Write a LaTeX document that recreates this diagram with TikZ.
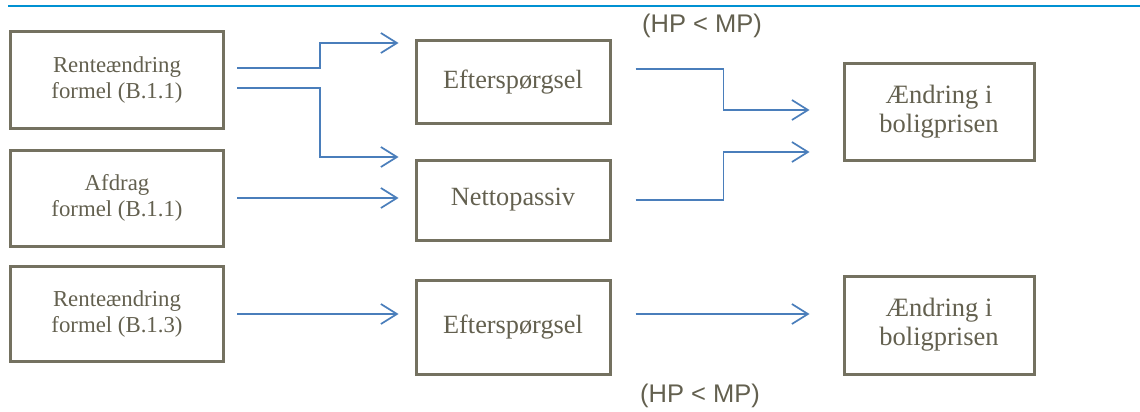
\documentclass[tikz,border=0pt]{standalone}
\usepackage{fontspec}
\setmainfont{Liberation Serif}
\newfontfamily\hpfont{Liberation Sans}
\usepackage{xcolor}
\usepackage{tikz}
\usetikzlibrary{arrows.meta,positioning}

\definecolor{boxgray}{HTML}{747160}
\definecolor{txtgray}{HTML}{63604F}
\definecolor{arrblue}{HTML}{4A7EBB}
\definecolor{rulblue}{HTML}{0091D2}

\begin{document}
\begin{tikzpicture}[
  x=1pt, y=1pt,
  box/.style={draw=boxgray, line width=3pt, align=center, text=txtgray, inner sep=0pt},
  inbox/.style={box, minimum width=213pt, minimum height=96pt, font=\fontsize{22.8}{26}\selectfont},
  midbox/.style={box, minimum width=194pt, font=\fontsize{26.3}{29}\selectfont},
  outbox/.style={box, minimum width=190pt, minimum height=97pt, font=\fontsize{26.5}{29}\selectfont},
  arr/.style={-{Straight Barb[length=16pt, width=20pt]}, line width=1.7pt, draw=arrblue, shorten <=12pt, shorten >=16pt},
  outarr/.style={arr, shorten <=24pt, shorten >=33pt},
  cond/.style={text=txtgray, font=\hpfont\fontsize{25.5}{28}\selectfont}
]
  \useasboundingbox (0,0) rectangle (1140,-412);
  \draw[rulblue, line width=2.4pt] (8,-6) -- (1140,-6);

  % left column
  \node[inbox] (ren1) at (117,-80) {Renteændring\\formel (B.1.1)};
  \node[inbox] (afd) at (117,-198) {Afdrag\\formel (B.1.1)};
  \node[inbox, minimum height=95pt] (ren3) at (117,-314) {Renteændring\\formel (B.1.3)};

  % middle column
  \node[midbox, minimum height=82pt] (eft1) at (513,-82) {Efterspørgsel};
  \node[midbox, minimum height=80pt] (netto) at (513,-200) {Nettopassiv};
  \node[midbox, minimum height=94pt] (eft3) at (513,-327) {Efterspørgsel};

  % right column
  \node[outbox] (aend1) at (939,-112) {Ændring i\\boligprisen};
  \node[outbox, minimum height=98pt] (aend3) at (939,-325) {Ændring i\\boligprisen};

  \node[cond] (hp1) at (702,-26) {(HP < MP)};
  \node[cond] (hp3) at (700,-396) {(HP < MP)};

  \draw[arr] ([yshift=12pt]ren1.east) -- ++(95,0) |- ([yshift=39pt]eft1.west);
  \draw[arr] ([yshift=-8pt]ren1.east) -- ++(95,0) |- ([yshift=43pt]netto.west);
  \draw[arr] (afd.east) -- (afd.east -| netto.west);
  \draw[arr] (ren3.east) -- (ren3.east -| eft3.west);

  \draw[outarr] ([yshift=13pt]eft1.east) -- ++(112,0) |- ([yshift=2pt]aend1.west);
  \draw[outarr] (netto.east) -- ++(112,0) |- ([yshift=-40pt]aend1.west);
  \draw[outarr] (eft3.east |- ren3.east) -- (aend3.west |- ren3.east);
\end{tikzpicture}
\end{document}
